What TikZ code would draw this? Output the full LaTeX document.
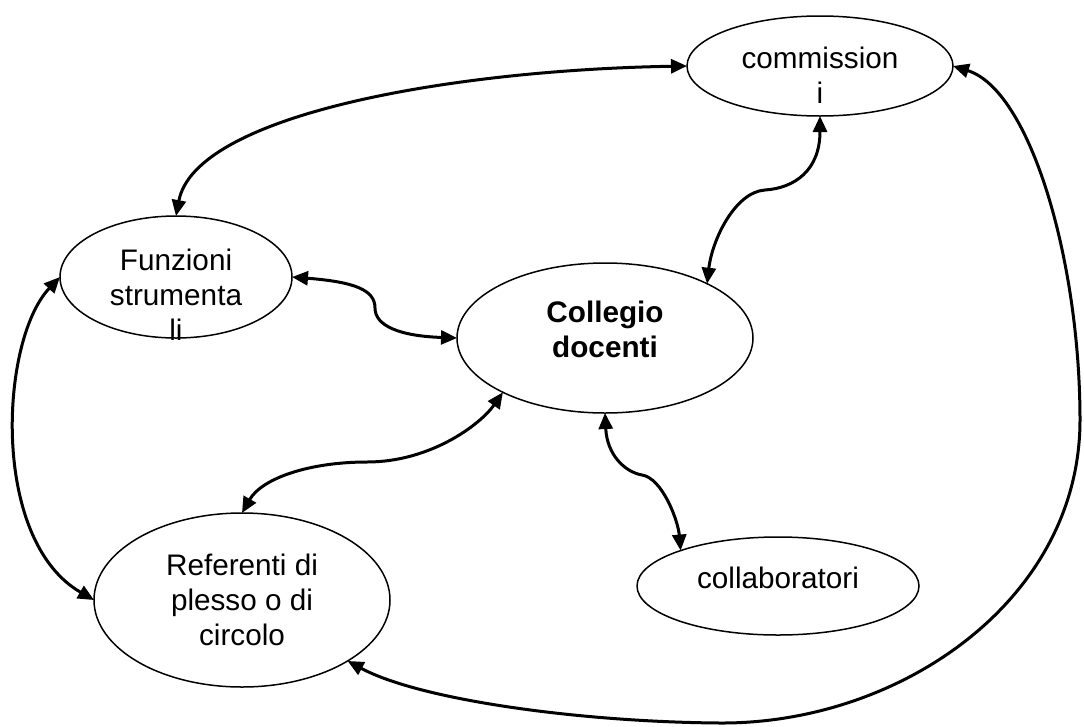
\documentclass[tikz,border=0pt]{standalone}
\usepackage{fontspec}
\setmainfont{Liberation Sans}
\usetikzlibrary{arrows.meta,shapes.geometric}
\begin{document}
\begin{tikzpicture}[x=1pt,y=-1pt,
  oval/.style={draw,ellipse,line width=1.5pt,inner sep=0pt,outer sep=0pt},
  lbl/.style={anchor=base,inner sep=0pt,font=\fontsize{29.7}{35}\selectfont},
  link/.style={line width=3pt,{Triangle[length=16pt,width=14pt]}-{Triangle[length=16pt,width=14pt]}}]
\useasboundingbox (0,0) rectangle (1084,726);
% ellipses
\node[oval,minimum width=266pt,minimum height=100pt] (comm) at (820,66) {};
\node[oval,minimum width=232pt,minimum height=122pt] (funz) at (176,277) {};
\node[oval,minimum width=296pt,minimum height=150pt] (coll) at (605,338) {};
\node[oval,minimum width=296pt,minimum height=174pt] (ref) at (242,600) {};
\node[oval,minimum width=282pt,minimum height=98pt] (collab) at (778,586) {};
% texts
\node[lbl] (commT) at (820,68) {\begin{tabular}[t]{@{}c@{}}commission\\i\end{tabular}};
\node[lbl] (funzT) at (176,270) {\begin{tabular}[t]{@{}c@{}}Funzioni\\strumenta\\li\end{tabular}};
\node[lbl] (collT) at (605,322) {\bfseries\begin{tabular}[t]{@{}c@{}}Collegio\\docenti\end{tabular}};
\node[lbl] (refT) at (242,575) {\begin{tabular}[t]{@{}c@{}}Referenti di\\plesso o di\\circolo\end{tabular}};
\node[lbl] (collabT) at (778,588) {collaboratori};
% connectors
\draw[link] (comm.west) .. controls (450,70) and (195,115) .. (funz.north);
\draw[link] (comm.south) .. controls (820,170) and (795,188) .. (765,190) .. controls (735,192) and (712,240) .. (coll.28);
\draw[link] (funz.east) .. controls (355,282) and (375,290) .. (375,308) .. controls (375,326) and (400,336) .. (coll.west);
\draw[link] (coll.208) .. controls (480,425) and (430,462) .. (367,462) .. controls (310,462) and (262,478) .. (ref.north);
\draw[link] (coll.south) .. controls (607,455) and (625,472) .. (642,475) .. controls (662,478) and (678,520) .. (collab.160);
\draw[link] (funz.west) .. controls (0,340) and (-10,540) .. (ref.west);
\draw[link] (comm.east) .. controls (1030,90) and (1080,260) .. (1080,420) .. controls (1080,600) and (900,724) .. (720,723) .. controls (580,722) and (420,700) .. (ref.-30);
\end{tikzpicture}
\end{document}
